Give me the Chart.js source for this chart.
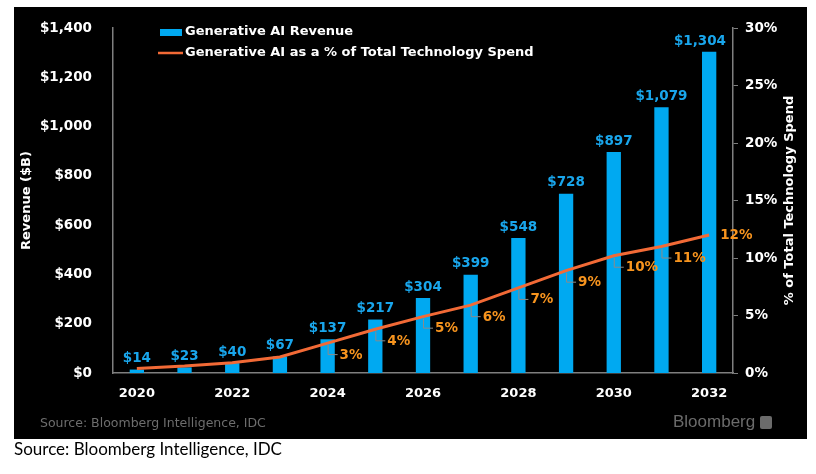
<!DOCTYPE html>
<html>
<head>
<meta charset="utf-8">
<script src="https://cdn.jsdelivr.net/npm/chart.js@4.4.1/dist/chart.umd.min.js"></script>
<style>
  html, body { margin: 0; padding: 0; background: #fff; }
  #panel { position: absolute; left: 14px; top: 7px; width: 793px; height: 432px; background: #000; }
  #src-in { position: absolute; left: 26px; top: 408px; font: 12.5px "DejaVu Sans"; color: #6e6e6e; white-space: nowrap; }
  #logo { position: absolute; left: 659px; top: 405px; font: 17px "Liberation Sans"; color: #6b6b6b; white-space: nowrap; }
  #logo-icon { position: absolute; left: 746px; top: 409px; width: 12px; height: 13px; background: #6b6b6b; border-radius: 2px; }
  #src-out { position: absolute; left: 14px; top: 438px; font: 17px Lato; color: #000; white-space: nowrap; }
</style>
</head>
<body>
<div id="panel">
  <canvas id="chart" width="793" height="432"></canvas>
  <div id="src-in">Source: Bloomberg Intelligence, IDC</div>
  <div id="logo">Bloomberg</div>
  <div id="logo-icon"></div>
</div>
<div id="src-out">Source: Bloomberg Intelligence, IDC</div>

<script>
// Gen AI gelir ve teknoloji harcaması payı
const years = ["2020", "2021", "2022", "2023", "2024", "2025", "2026", "2027", "2028", "2029", "2030", "2031", "2032"];
const revenue = [14, 23, 40, 67, 137, 217, 304, 399, 548, 728, 897, 1079, 1304];
const shareOfSpend = [0.4, 0.6, 0.9, 1.4, 2.6, 3.8, 4.9, 5.9, 7.4, 8.9, 10.2, 11.0, 12.0];
const shareLabels = ["", "", "", "", "3%", "4%", "5%", "6%", "7%", "9%", "10%", "11%", "12%"];
const revenueTicks = [0, 200, 400, 600, 800, 1000, 1200, 1400];
const shareTicks = [0, 5, 10, 15, 20, 25, 30];

const BLUE = "#00a9f1";
const BLUE_TXT = "#19a6ec";
const ORANGE = "#f26a36";
const ORANGE_TXT = "#f7941e";
const AXIS = "#7f7f7f";
const FONT = '"DejaVu Sans", Verdana, sans-serif';

const fmtMoney = v => "$" + v.toLocaleString("en-US");

const labelsPlugin = {
    id: "labels",
    afterDatasetsDraw(chart) {
        const ctx = chart.ctx;
        const area = chart.chartArea;
        const bars = chart.getDatasetMeta(0).data;
        const pts = chart.getDatasetMeta(1).data;
        ctx.save();
        ctx.font = "bold 13.5px " + FONT;
        ctx.textAlign = "center";
        ctx.textBaseline = "bottom";
        ctx.fillStyle = BLUE_TXT;
        bars.forEach((b, i) => {
            const txt = fmtMoney(revenue[i]);
            const w = ctx.measureText(txt).width;
            // sağ eksene taşmasın
            const cx = Math.min(b.x, area.right - 7 - w / 2);
            ctx.fillText(txt, cx, b.y - 4);
        });

        ctx.textAlign = "left";
        ctx.textBaseline = "middle";
        pts.forEach((p, i) => {
            const txt = shareLabels[i];
            if (!txt) return;
            ctx.fillStyle = ORANGE_TXT;
            if (i === pts.length - 1) {
                ctx.fillText(txt, p.x + 11, p.y);
                return;
            }
            ctx.strokeStyle = "#8a8a8a";
            ctx.lineWidth = 1;
            ctx.beginPath();
            ctx.moveTo(p.x + 0.5, p.y + 2);
            ctx.lineTo(p.x + 0.5, p.y + 11.5);
            ctx.lineTo(p.x + 10, p.y + 11.5);
            ctx.stroke();
            ctx.fillText(txt, p.x + 12, p.y + 12);
        });
        ctx.restore();
    },
    afterDraw(chart) {
        const ctx = chart.ctx;
        const area = chart.chartArea;
        const midY = (area.top + area.bottom) / 2;
        ctx.save();
        ctx.fillStyle = "#fff";
        ctx.font = "bold 13px " + FONT;
        ctx.textAlign = "center";
        ctx.textBaseline = "middle";
        // eksen başlıkları
        ctx.save();
        ctx.translate(13, midY);
        ctx.rotate(-Math.PI / 2);
        ctx.fillText("Revenue ($B)", 0, 0);
        ctx.restore();
        ctx.save();
        ctx.translate(776, midY);
        ctx.rotate(-Math.PI / 2);
        ctx.fillText("% of Total Technology Spend", 0, 0);
        ctx.restore();

        // lejant
        ctx.textAlign = "left";
        ctx.fillStyle = BLUE;
        ctx.fillRect(146, 22, 22, 7);
        ctx.strokeStyle = ORANGE;
        ctx.lineWidth = 2.5;
        ctx.beginPath();
        ctx.moveTo(144, 46);
        ctx.lineTo(169, 46);
        ctx.stroke();
        ctx.fillStyle = "#fff";
        ctx.fillText("Generative AI Revenue", 171, 25);
        ctx.fillText("Generative AI as a % of Total Technology Spend", 171, 46);
        ctx.restore();
    }
};

new Chart(document.getElementById("chart"), {
    type: "bar",
    data: {
        labels: years,
        datasets: [
            {
                label: "Generative AI Revenue",
                data: revenue,
                backgroundColor: BLUE,
                yAxisID: "y",
                order: 2,
                barPercentage: 0.3,
                categoryPercentage: 1
            },
            {
                type: "line",
                label: "Generative AI as a % of Total Technology Spend",
                data: shareOfSpend,
                borderColor: ORANGE,
                borderWidth: 3,
                pointRadius: 0,
                tension: 0,
                yAxisID: "y1",
                order: 1
            }
        ]
    },
    options: {
        responsive: false,
        animation: false,
        devicePixelRatio: 1,
        layout: { padding: { top: 14, left: 0, right: 0, bottom: 0 } },
        plugins: { legend: { display: false }, tooltip: { enabled: false } },
        scales: {
            x: {
                grid: { display: false },
                border: { display: true, color: AXIS, width: 1.5 },
                ticks: {
                    color: "#fff",
                    font: { family: FONT, size: 13, weight: "bold" },
                    padding: 5,
                    maxRotation: 0,
                    autoSkip: false,
                    callback: (v, i) => (i % 2 === 0 ? years[i] : "")
                },
                afterFit: s => { s.height = 66; }
            },
            y: {
                position: "left",
                min: 0,
                max: 1400,
                afterBuildTicks: s => { s.ticks = revenueTicks.map(v => ({ value: v })); },
                grid: { display: false },
                border: { display: true, color: AXIS, width: 1.5 },
                ticks: {
                    color: "#fff",
                    font: { family: FONT, size: 13.5, weight: "bold" },
                    padding: 13,
                    callback: v => fmtMoney(v)
                },
                afterFit: s => { s.width = 99; }
            },
            y1: {
                position: "right",
                min: 0,
                max: 30,
                afterBuildTicks: s => { s.ticks = shareTicks.map(v => ({ value: v })); },
                grid: { display: true, drawOnChartArea: false, drawTicks: true, tickLength: 5, color: AXIS },
                border: { display: true, color: AXIS, width: 1.5 },
                ticks: {
                    color: "#fff",
                    font: { family: FONT, size: 13.5, weight: "bold" },
                    padding: 7,
                    callback: v => v + "%"
                },
                afterFit: s => { s.width = 74; }
            }
        }
    },
    plugins: [labelsPlugin]
});
</script>
</body>
</html>
